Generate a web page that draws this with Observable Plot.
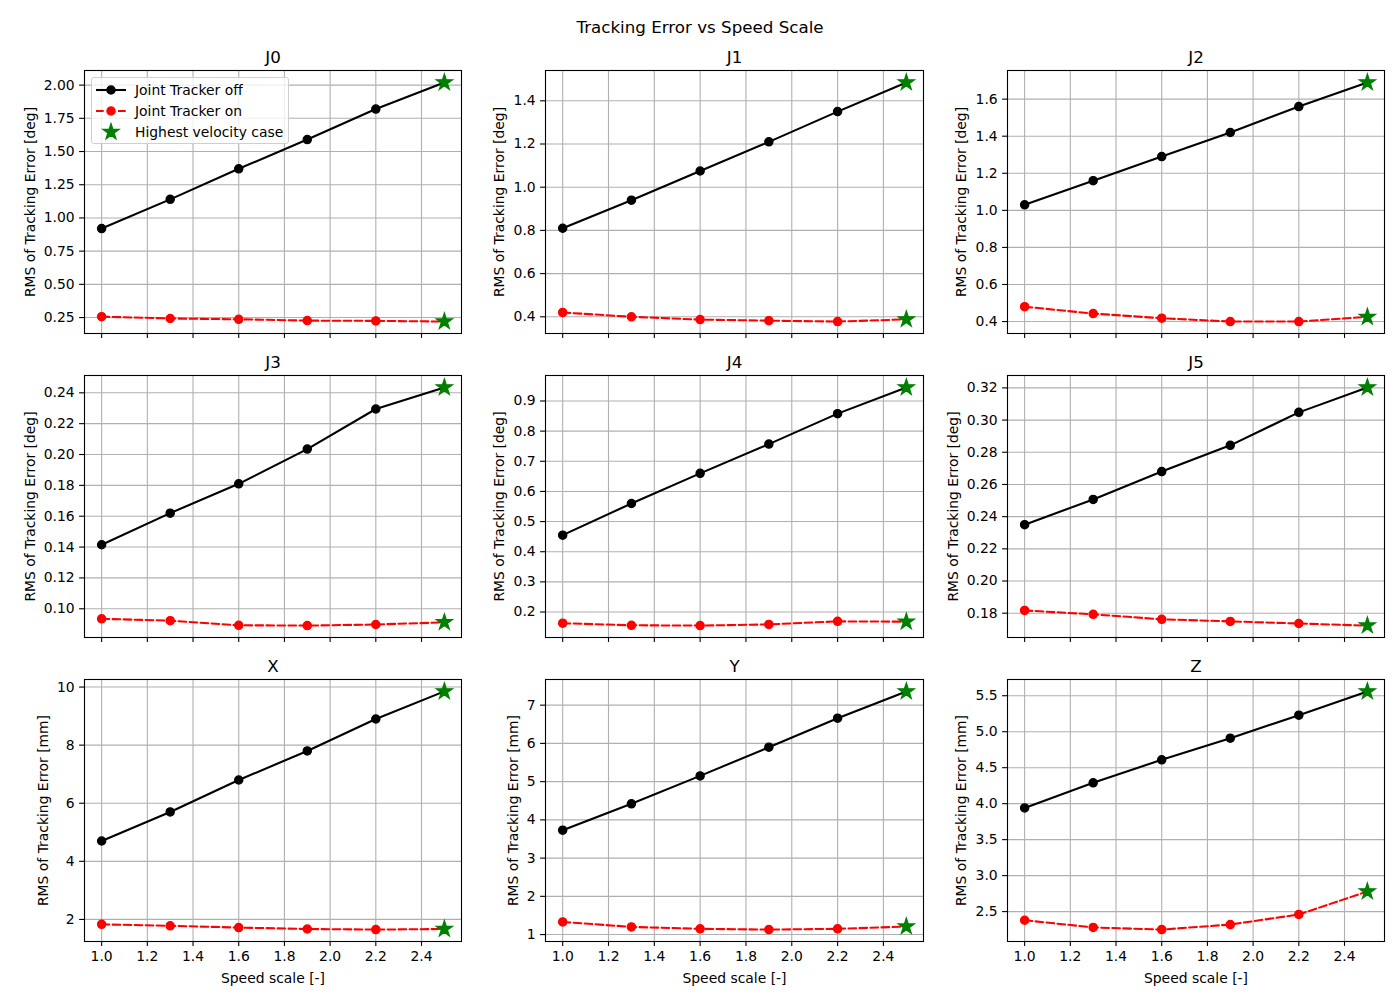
<!DOCTYPE html>
<html><head><meta charset="utf-8">
<script src="https://cdn.jsdelivr.net/npm/d3@7"></script>
<script src="https://cdn.jsdelivr.net/npm/@observablehq/plot@0.6"></script>
<style>
body{margin:0;background:#fff;font-family:"DejaVu Sans",sans-serif;color:#000;}
#fig{position:relative;width:1400px;height:1000px;overflow:hidden;background:#fff;}
.panel{position:absolute;}
#suptitle{position:absolute;left:0;width:1400px;top:17px;line-height:20px;text-align:center;font-size:16.7px;}
.legend{position:absolute;border:1px solid #cfcfcf;border-radius:3px;background:rgba(255,255,255,0.8);box-sizing:border-box;}
.legrow{position:absolute;left:0;height:20px;line-height:20px;font-size:13.9px;white-space:nowrap;}
.legrow svg{position:absolute;left:0;top:0;}
.legrow span{position:absolute;left:43px;top:0;}
</style></head><body>
<div id="fig"><div id="suptitle">Tracking Error vs Speed Scale</div></div>
<script>
// ---------------- data ----------------
const speedScale = [1.0, 1.3, 1.6, 1.9, 2.2, 2.5];
const panelNames = ["J0", "J1", "J2", "J3", "J4", "J5", "X", "Y", "Z"];
const panelUnits = ["deg", "deg", "deg", "deg", "deg", "deg", "mm", "mm", "mm"];
const seriesNames = ["Joint Tracker off", "Joint Tracker on", "Highest velocity case"];

const offJ0 = [0.92, 1.14, 1.37, 1.59, 1.82, 2.02];
const onJ0  = [0.257, 0.243, 0.237, 0.227, 0.225, 0.220];
const offJ1 = [0.81, 0.94, 1.075, 1.21, 1.35, 1.485];
const onJ1  = [0.42, 0.40, 0.387, 0.382, 0.378, 0.388];
const offJ2 = [1.03, 1.16, 1.29, 1.42, 1.56, 1.69];
const onJ2  = [0.48, 0.443, 0.418, 0.40, 0.40, 0.425];
const offJ3 = [0.1415, 0.162, 0.181, 0.2035, 0.2295, 0.2435];
const onJ3  = [0.0935, 0.0923, 0.0893, 0.0891, 0.0898, 0.0912];
const offJ4 = [0.455, 0.56, 0.66, 0.757, 0.858, 0.945];
const onJ4  = [0.163, 0.156, 0.155, 0.159, 0.169, 0.168];
const offJ5 = [0.235, 0.2507, 0.268, 0.2843, 0.3048, 0.3203];
const onJ5  = [0.1817, 0.1793, 0.1762, 0.1749, 0.1736, 0.1723];
const offX  = [4.70, 5.70, 6.80, 7.80, 8.90, 9.85];
const onX   = [1.83, 1.78, 1.72, 1.67, 1.65, 1.67];
const offY  = [3.73, 4.42, 5.15, 5.90, 6.66, 7.36];
const onY   = [1.33, 1.20, 1.15, 1.13, 1.15, 1.21];
const offZ  = [3.94, 4.29, 4.61, 4.91, 5.23, 5.56];
const onZ   = [2.38, 2.28, 2.25, 2.32, 2.46, 2.78];

const xTickLabels = ["1.0", "1.2", "1.4", "1.6", "1.8", "2.0", "2.2", "2.4"];
const yTicksJ0 = ["0.25", "0.50", "0.75", "1.00", "1.25", "1.50", "1.75", "2.00"];
const yTicksJ1 = ["0.4", "0.6", "0.8", "1.0", "1.2", "1.4"];
const yTicksJ2 = ["0.4", "0.6", "0.8", "1.0", "1.2", "1.4", "1.6"];
const yTicksJ3 = ["0.10", "0.12", "0.14", "0.16", "0.18", "0.20", "0.22", "0.24"];
const yTicksJ4 = ["0.2", "0.3", "0.4", "0.5", "0.6", "0.7", "0.8", "0.9"];
const yTicksJ5 = ["0.18", "0.20", "0.22", "0.24", "0.26", "0.28", "0.30", "0.32"];
const yTicksX  = ["2", "4", "6", "8", "10"];
const yTicksY  = ["1", "2", "3", "4", "5", "6", "7"];
const yTicksZ  = ["2.5", "3.0", "3.5", "4.0", "4.5", "5.0", "5.5"];

const offSeries = [offJ0, offJ1, offJ2, offJ3, offJ4, offJ5, offX, offY, offZ];
const onSeries  = [onJ0, onJ1, onJ2, onJ3, onJ4, onJ5, onX, onY, onZ];
const yTickSets = [yTicksJ0, yTicksJ1, yTicksJ2, yTicksJ3, yTicksJ4, yTicksJ5, yTicksX, yTicksY, yTicksZ];

// ---------------- layout ----------------
const fig = document.getElementById("fig");
const colLeft = [84, 545, 1007], colW = [377, 378, 377];
const rowTop = [70, 375, 679], rowH = [263, 262, 262];
const ML = 90, MR = 15, MT = 35, MB = 55;
const FS = 13.9, TFS = 16.7;
const lw = 2.08;

const ctx = document.createElement("canvas").getContext("2d");
ctx.font = `${FS}px "DejaVu Sans"`;

function pad(ext) { const d = ext[1] - ext[0]; return [ext[0] - 0.05 * d, ext[1] + 0.05 * d]; }
const xDomain = pad(d3.extent(speedScale));
const xTickVals = xTickLabels.map(Number);
const xLabMap = new Map(xTickVals.map((v, i) => [v, xTickLabels[i]]));

panelNames.forEach((name, i) => {
  const r = Math.floor(i / 3), c = i % 3;
  const fw = colW[c], fh = rowH[r];
  const bottom = r === 2;
  const off = speedScale.map((s, k) => ({x: s, y: offSeries[i][k], k}));
  const on = speedScale.map((s, k) => ({x: s, y: onSeries[i][k], k}));
  const last = speedScale.length - 1;
  const stars = [off[last], on[last]];
  const yDomain = pad(d3.extent([...offSeries[i], ...onSeries[i]]));
  const yLabels = yTickSets[i];
  const yVals = yLabels.map(Number);
  const yMap = new Map(yVals.map((v, k) => [v, yLabels[k]]));
  const maxW = d3.max(yLabels, s => ctx.measureText(s).width);

  const plot = Plot.plot({
    width: ML + fw + MR, height: MT + fh + MB,
    marginLeft: ML, marginRight: MR, marginTop: MT, marginBottom: MB,
    x: {type: "linear", domain: xDomain},
    y: {type: "linear", domain: yDomain},
    style: {fontFamily: "DejaVu Sans", fontSize: `${FS}px`, background: "transparent", color: "#000", overflow: "visible"},
    marks: [
      Plot.gridX(xTickVals, {stroke: "#b0b0b0", strokeOpacity: 1, strokeWidth: 1.1}),
      Plot.gridY(yVals, {stroke: "#b0b0b0", strokeOpacity: 1, strokeWidth: 1.1}),
      Plot.line(off, {x: "x", y: "y", stroke: "#000", strokeWidth: lw}),
      Plot.line(on, {x: "x", y: "y", stroke: "#ff0000", strokeWidth: lw, strokeDasharray: "7.7,3.3"}),
      Plot.dot(off.filter(d => d.k < last), {x: "x", y: "y", r: 4.1, fill: "#000", stroke: "#000", strokeWidth: 1.3}),
      Plot.dot(on.filter(d => d.k < last), {x: "x", y: "y", r: 4.1, fill: "#ff0000", stroke: "#ff0000", strokeWidth: 1.3}),
      Plot.dot(stars, {x: "x", y: "y", symbol: "star", r: 5.0, fill: "#008000", stroke: "#008000", strokeWidth: 1.3}),
      Plot.frame({stroke: "#000", strokeWidth: 1.1}),
      Plot.axisX(xTickVals, {
        tickSize: 4.9, tickPadding: 4.9, strokeWidth: 1.1, fontSize: FS,
        tickFormat: bottom ? (d => xLabMap.get(d)) : (() => ""),
        label: bottom ? "Speed scale [-]" : null,
        labelAnchor: "center", labelArrow: "none", labelOffset: 41
      }),
      Plot.axisY(yVals, {
        tickSize: 4.9, tickPadding: 4.9, strokeWidth: 1.1, fontSize: FS,
        tickFormat: d => yMap.get(d),
        label: `RMS of Tracking Error [${panelUnits[i]}]`,
        labelAnchor: "center", labelArrow: "none", labelOffset: 28.9 + maxW
      }),
      Plot.text([name], {frameAnchor: "top", dy: -8, lineAnchor: "bottom", fontSize: TFS, fill: "#000"})
    ]
  });
  plot.classList.add("panel");
  plot.style.left = (colLeft[c] - ML) + "px";
  plot.style.top = (rowTop[r] - MT) + "px";
  fig.appendChild(plot);
});

// ---------------- legend (J0 panel) ----------------
const leg = document.createElement("div");
leg.className = "legend";
leg.style.left = "91px"; leg.style.top = "77px"; leg.style.width = "198px"; leg.style.height = "67px";
const starPath = d3.symbol(d3.symbolStar, 5.0 * 5.0 * Math.PI)();
const handles = [
  `<line x1="4" y1="10" x2="34" y2="10" stroke="#000" stroke-width="${lw}"/><circle cx="19" cy="10" r="4.1" fill="#000" stroke="#000" stroke-width="1.3"/>`,
  `<line x1="4" y1="10" x2="34" y2="10" stroke="#ff0000" stroke-width="${lw}" stroke-dasharray="7.7,3.3"/><circle cx="19" cy="10" r="4.1" fill="#ff0000" stroke="#ff0000" stroke-width="1.3"/>`,
  `<path transform="translate(19,10)" d="${starPath}" fill="#008000" stroke="#008000" stroke-width="1.3"/>`
];
seriesNames.forEach((s, k) => {
  const row = document.createElement("div");
  row.className = "legrow";
  row.style.top = (2 + k * 21) + "px";
  row.innerHTML = `<svg width="40" height="20">${handles[k]}</svg><span>${s}</span>`;
  leg.appendChild(row);
});
fig.appendChild(leg);
</script>
</body></html>
